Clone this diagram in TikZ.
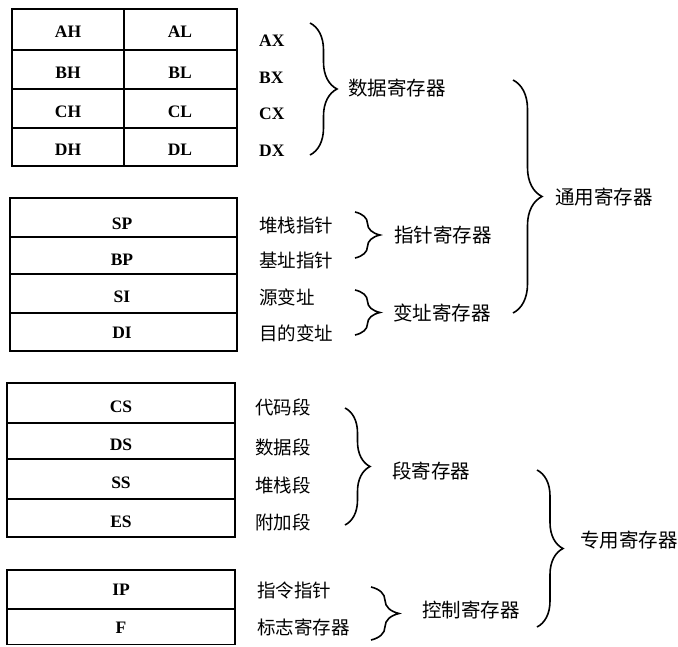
\documentclass[tikz,border=0pt]{standalone}
\usepackage{fontspec}
\setmainfont{Liberation Serif}
\newfontfamily\cjk{Noto Sans CJK SC}
\usetikzlibrary{decorations.pathreplacing}
\begin{document}
\begin{tikzpicture}[x=1pt,y=-1pt,
  cell/.style={draw,line width=1.3pt},
  reg/.style={font=\fontsize{17.5}{18}\selectfont\bfseries, inner sep=0pt},
  lab/.style={font=\cjk\fontsize{18.5}{19}\selectfont, anchor=west, inner sep=0pt},
  lat/.style={font=\fontsize{17.5}{18}\selectfont\bfseries, anchor=west, inner sep=0pt},
  grp/.style={font=\cjk\fontsize{19.5}{20}\selectfont, anchor=west, inner sep=0pt},
  brc/.style={decorate, decoration={brace, amplitude=#1}, line width=1.6pt},
]
\useasboundingbox (0,0) rectangle (678,646);

% ---- table 1: data registers
\draw[cell] (12,9) rectangle (237,166);
\draw[cell] (124,9) -- (124,166);
\foreach \y in {50,89,128} \draw[cell] (12,\y) -- (237,\y);
\node[reg] (ah) at (68,31.5) {AH};
\node[reg] (al) at (180,31.5) {AL};
\node[reg] (bh) at (68,72.5) {BH};
\node[reg] (bl) at (180,72.5) {BL};
\node[reg] (ch) at (68,111.5) {CH};
\node[reg] (cl) at (180,111.5) {CL};
\node[reg] (dh) at (68,149.5) {DH};
\node[reg] (dl) at (180,149.5) {DL};
\node[lat] (ax) at (259,41) {AX};
\node[lat] (bx) at (259,77.5) {BX};
\node[lat] (cx) at (259,114) {CX};
\node[lat] (dx) at (259,151) {DX};

% ---- table 2: pointer & index registers
\draw[cell] (10,198) rectangle (237,351);
\foreach \y in {237,274,313} \draw[cell] (10,\y) -- (237,\y);
\node[reg] (sp) at (122,224) {SP};
\node[reg] (bp) at (122,260) {BP};
\node[reg] (si) at (122,297) {SI};
\node[reg] (di) at (122,333) {DI};
\node[lab] (l1) at (259,225) {堆栈指针};
\node[lab] (l2) at (259,260) {基址指针};
\node[lab] (l3) at (259,297) {源变址};
\node[lab] (l4) at (259,333) {目的变址};

% ---- table 3: segment registers
\draw[cell] (7,383) rectangle (235,537);
\foreach \y in {423,459,499} \draw[cell] (7,\y) -- (235,\y);
\node[reg] (cs) at (121,407) {CS};
\node[reg] (ds) at (121,445) {DS};
\node[reg] (ss) at (121,483) {SS};
\node[reg] (es) at (121,522) {ES};
\node[lab] (m1) at (255,407) {代码段};
\node[lab] (m2) at (255,447) {数据段};
\node[lab] (m3) at (255,485) {堆栈段};
\node[lab] (m4) at (255,522) {附加段};

% ---- table 4: control registers
\draw[cell] (7,570) rectangle (235,644.5);
\draw[cell] (7,609) -- (235,609);
\node[reg] (ip) at (121,590) {IP};
\node[reg] (f) at (121,628) {F};
\node[lab] (n1) at (257,590) {指令指针};
\node[lab] (n2) at (257,627) {标志寄存器};

% ---- braces
\coordinate (b1t) at (310,23);  \coordinate (b1b) at (310,155);
\draw[brc=27pt] (b1t) -- (b1b);
\node[grp] (g1) at (348,88) {数据寄存器};

\coordinate (b2t) at (355,212); \coordinate (b2b) at (355,258);
\draw[brc=25pt] (b2t) -- (b2b);
\node[grp] (g2) at (394,235) {指针寄存器};

\coordinate (b3t) at (355,290); \coordinate (b3b) at (355,335);
\draw[brc=25pt] (b3t) -- (b3b);
\node[grp] (g3) at (393,313) {变址寄存器};

\coordinate (b4t) at (513,80); \coordinate (b4b) at (513,313);
\draw[brc=29pt] (b4t) -- (b4b);
\node[grp] (g4) at (555,197) {通用寄存器};

\coordinate (b5t) at (345,408); \coordinate (b5b) at (345,525);
\draw[brc=25pt] (b5t) -- (b5b);
\node[grp] (g5) at (392,471) {段寄存器};

\coordinate (b6t) at (371,587); \coordinate (b6b) at (371,640);
\draw[brc=28pt] (b6t) -- (b6b);
\node[grp] (g6) at (422,610) {控制寄存器};

\coordinate (b7t) at (537,470); \coordinate (b7b) at (537,627);
\draw[brc=26pt] (b7t) -- (b7b);
\node[grp] (g7) at (580,540) {专用寄存器};
\end{tikzpicture}
\end{document}
